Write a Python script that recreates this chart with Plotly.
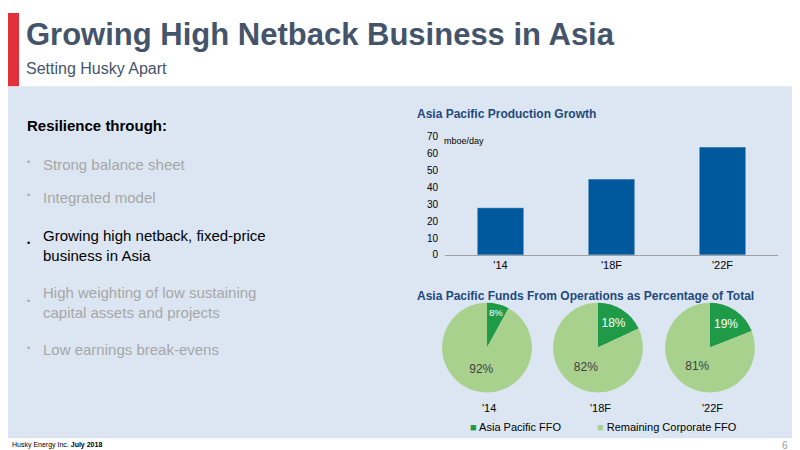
import plotly.graph_objects as go

years = ["'14", "'18F", "'22F"]
production = [28, 45, 64]
ffo_labels = ["Asia Pacific FFO", "Remaining Corporate FFO"]
ffo_asia = [8, 18, 19]
ffo_rest = [92, 82, 81]
yticks = [0, 10, 20, 30, 40, 50, 60, 70]
bullets = ["Strong balance sheet", "Integrated model",
           "Growing high netback, fixed-price<br>business in Asia",
           "High weighting of low sustaining<br>capital assets and projects",
           "Low earnings break-evens"]
bullet_active = [False, False, True, False, False]

W, H = 800, 450
def px(x): return x / W
def py(y): return 1 - y / H

fig = go.Figure()
fig.add_trace(go.Bar(x=years, y=production, marker_color="#00599c", showlegend=False,
                     xaxis="x", yaxis="y"))

dark, light = "#1f9a46", "#a9d18e"
doms = [(433, 525), (544, 636), (656, 748)]
for i in range(3):
    x0, x1 = doms[i]
    fig.add_trace(go.Pie(
        labels=ffo_labels, values=[ffo_asia[i], ffo_rest[i]], sort=False,
        direction="clockwise", rotation=0,
        marker=dict(colors=[dark, light]),
        text=[f"{ffo_asia[i]}%", f"{ffo_rest[i]}%"], texttemplate="%{text}",
        textposition="inside", insidetextorientation="horizontal",
        textfont=dict(color=["white", "#404040"], size=12, family="Liberation Sans"),
        domain=dict(x=[px(x0), px(x1)], y=[py(389), py(297)]),
        showlegend=False, hoverinfo="label+percent"))

shapes = [
    dict(type="rect", xref="paper", yref="paper", x0=0, x1=1, y0=py(436), y1=py(75),
         fillcolor="#dce6f2", line_width=0, layer="below"),
    dict(type="rect", xref="paper", yref="paper", x0=0, x1=px(11), y0=py(75), y1=1,
         fillcolor="#e0303a", line_width=0, layer="below"),
]
D = 10
ann = [
    dict(x=px(26 - D), y=py(22), text="<b>Growing High Netback Business in Asia</b>",
         font=dict(size=31, color="#44546a")),
    dict(x=px(26 - D), y=py(57), text="Setting Husky Apart", font=dict(size=16, color="#44546a")),
    dict(x=px(27 - D), y=py(115), text="<b>Resilience through:</b>", font=dict(size=15, color="#000")),
    dict(x=px(417 - D), y=py(104), text="<b>Asia Pacific Production Growth</b>",
         font=dict(size=12, color="#1f497d")),
    dict(x=px(417 - D), y=py(290), text="<b>Asia Pacific Funds From Operations as Percentage of Total</b>",
         font=dict(size=12, color="#1f497d")),
    dict(x=px(444 - D), y=py(131), text="mboe/day", font=dict(size=9, color="#000")),
    dict(x=px(4 - 2), y=py(443), text="Husky Energy Inc. <b>July 2018</b>", font=dict(size=7, color="#000")),
    dict(x=px(782), y=py(443), text="6", font=dict(size=10, color="#999"), xanchor="right"),
    dict(x=px(470 - D), y=py(424), text="<span style='color:%s'>■</span> Asia Pacific FFO" % dark,
         font=dict(size=11, color="#000")),
    dict(x=px(597 - D), y=py(424), text="<span style='color:%s'>■</span> Remaining Corporate FFO" % light,
         font=dict(size=11, color="#000")),
]
bys = [155, 189, 238, 297, 345]
for b, yy, act in zip(bullets, bys, bullet_active):
    c = "#000" if act else "#a6a6a6"
    ann.append(dict(x=px(27 - D), y=py(yy - 2), text="•", font=dict(size=9, color=c)))
    ann.append(dict(x=px(43 - D), y=py(yy), text=b, align="left", font=dict(size=15, color=c)))
for i, yr in enumerate(years):
    x0, x1 = doms[i]
    ann.append(dict(x=px((x0 + x1) / 2 + 2), y=py(405), text=yr, xanchor="center",
                    font=dict(size=11, color="#000")))
for a in ann:
    a.update(xref="paper", yref="paper", showarrow=False)
    a.setdefault("xanchor", "left")
    a.setdefault("yanchor", "middle")

fig.update_layout(
    width=W, height=H, margin=dict(l=0, r=0, t=0, b=0),
    paper_bgcolor="white", plot_bgcolor="rgba(0,0,0,0)",
    font=dict(family="Liberation Sans", color="#000"),
    shapes=shapes, annotations=ann, bargap=0.58, showlegend=False,
    xaxis=dict(domain=[px(437), px(770)], showline=True, linecolor="#a0a0a0",
               tickfont=dict(size=11), ticks=""),
    yaxis=dict(domain=[py(248), py(127)], range=[0, 70], tickvals=yticks,
               showgrid=False, showline=False, zeroline=False, tickfont=dict(size=10),
               ticklabelstandoff=6),
)
fig.write_html("out.html")
